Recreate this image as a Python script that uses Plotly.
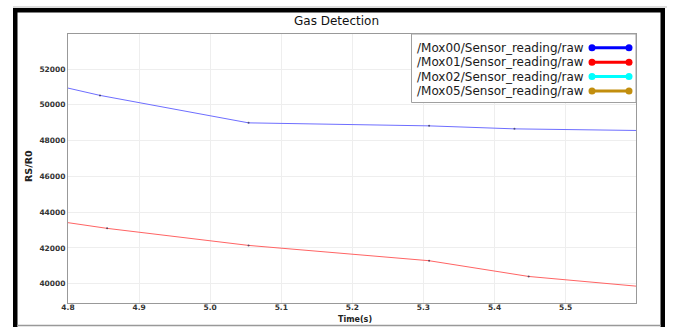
import plotly.graph_objects as go

# ---------------- data ----------------
mox00_t = [4.800, 4.845, 5.054, 5.308, 5.428, 5.600]
mox00_v = [50936, 50527, 48992, 48824, 48656, 48566]
mox01_t = [4.800, 4.855, 5.054, 5.308, 5.448, 5.600]
mox01_v = [43412, 43093, 42140, 41284, 40404, 39860]
series_names = ["/Mox00/Sensor_reading/raw", "/Mox01/Sensor_reading/raw",
                "/Mox02/Sensor_reading/raw", "/Mox05/Sensor_reading/raw"]
legend_colors = ["#0000ff", "#ff0000", "#00ffff", "#c28e0e"]
x_ticks = [4.8, 4.9, 5.0, 5.1, 5.2, 5.3, 5.4, 5.5]
y_ticks = [40000, 42000, 44000, 46000, 48000, 50000, 52000]

W, H = 673, 327
L, R, T, B = 68, 636, 34, 303


def px(x):
    return (x - L) / (R - L)


def py(y):
    return (B - y) / (B - T)


fig = go.Figure()


def add_series(t, v, color):
    sizes = [0] + [2] * (len(t) - 2) + [0]
    fig.add_trace(go.Scatter(x=t, y=v, mode="lines+markers",
                             line=dict(color=color, width=1),
                             marker=dict(size=sizes, color="#222244", line=dict(width=0)),
                             showlegend=False, hoverinfo="skip"))


add_series(mox00_t, mox00_v, "rgb(110,110,255)")
add_series(mox01_t, mox01_v, "rgb(255,100,100)")
# empty series for Mox02 / Mox05
fig.add_trace(go.Scatter(x=[], y=[], mode="lines", showlegend=False))
fig.add_trace(go.Scatter(x=[], y=[], mode="lines", showlegend=False))

shapes = []
annotations = []

# outer frame
shapes.append(dict(type="line", xref="paper", yref="paper", x0=px(13), x1=px(667),
                   y0=py(7), y1=py(7), line=dict(color="#bbbbbb", width=1)))
shapes.append(dict(type="rect", xref="paper", yref="paper", x0=px(13), x1=px(665),
                   y0=py(12.5), y1=py(8), fillcolor="black", line=dict(width=0)))
shapes.append(dict(type="rect", xref="paper", yref="paper", x0=px(13), x1=px(17.5),
                   y0=py(327), y1=py(8), fillcolor="black", line=dict(width=0)))
shapes.append(dict(type="rect", xref="paper", yref="paper", x0=px(660.5), x1=px(665),
                   y0=py(327), y1=py(8), fillcolor="black", line=dict(width=0)))
shapes.append(dict(type="line", xref="paper", yref="paper", x0=px(17), x1=px(661),
                   y0=py(325.5), y1=py(325.5), line=dict(color="#999999", width=1.5)))

# custom legend
lx0, lx1, ly0, ly1 = 411.5, 636, 34, 102.5
shapes.append(dict(type="rect", xref="paper", yref="paper", x0=px(lx0), x1=px(lx1),
                   y0=py(ly1), y1=py(ly0), fillcolor="white",
                   line=dict(color="#a0a0a0", width=1)))
rows = [47.7, 62.3, 76.5, 91]
for name, col, ry in zip(series_names, legend_colors, rows):
    annotations.append(dict(xref="paper", yref="paper", x=px(585.5), y=py(ry),
                            xanchor="right", yanchor="middle", text=name,
                            showarrow=False,
                            font=dict(family="DejaVu Sans", size=12, color="#1a1a1a")))
    shapes.append(dict(type="line", xref="paper", yref="paper", x0=px(592), x1=px(629),
                       y0=py(ry), y1=py(ry), line=dict(color=col, width=3)))
    for cx in (592, 629):
        shapes.append(dict(type="circle", xref="paper", yref="paper",
                           x0=px(cx - 3.5), x1=px(cx + 3.5),
                           y0=py(ry + 3.5), y1=py(ry - 3.5),
                           fillcolor=col, line=dict(width=0)))

# axis titles
annotations.append(dict(xref="paper", yref="paper", x=px(355), y=py(319.5),
                        xanchor="center", yanchor="middle", text="Time(s)",
                        showarrow=False,
                        font=dict(family="DejaVu Sans", size=8, color="#222222", weight="bold")))
annotations.append(dict(xref="paper", yref="paper", x=px(28), y=py(166),
                        xanchor="center", yanchor="middle", text="RS/R0", textangle=-90,
                        showarrow=False,
                        font=dict(family="DejaVu Sans", size=9.5, color="#222222", weight="bold")))

tick_font = dict(family="DejaVu Sans", size=7.5, color="#333333", weight="bold")

fig.update_layout(
    width=W, height=H, autosize=False,
    margin=dict(l=L, r=W - R, t=T, b=H - B, pad=0),
    paper_bgcolor="white", plot_bgcolor="white",
    title=dict(text="Gas Detection", x=px(352), xanchor="center",
               y=1 - 20.5 / H, yanchor="middle",
               font=dict(family="DejaVu Sans", size=12, color="#111111")),
    shapes=shapes, annotations=annotations,
    showlegend=False,
    xaxis=dict(range=[4.8, 5.599], tickvals=x_ticks,
               ticktext=[f"{v:.1f}" for v in x_ticks],
               showgrid=True, gridcolor="#eeeeee", gridwidth=1,
               showline=True, linecolor="#999999", linewidth=1, mirror=True,
               ticks="", zeroline=False, ticklabelstandoff=-3,
               tickfont=tick_font),
    yaxis=dict(range=[38920, 53960], tickvals=y_ticks,
               ticktext=[str(v) for v in y_ticks],
               showgrid=True, gridcolor="#eeeeee", gridwidth=1,
               showline=True, linecolor="#999999", linewidth=1, mirror=True,
               ticks="", zeroline=False,
               tickfont=tick_font),
)

fig.write_html("out.html")
